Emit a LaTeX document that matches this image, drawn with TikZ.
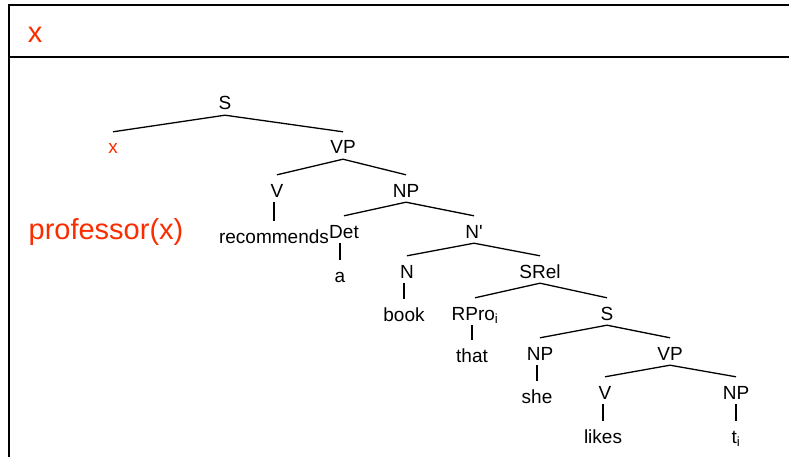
\documentclass[tikz,border=0pt]{standalone}
\usepackage{fontspec}
\setmainfont{Liberation Sans}
\definecolor{myRed}{RGB}{250, 45, 0}

\begin{document}
\begin{tikzpicture}[x=1pt,y=-1pt,
    tn/.style={anchor=base, inner sep=2pt, text height=20pt, text depth=3pt, font=\fontsize{19}{22}\selectfont},
    big/.style={anchor=base, inner sep=0pt, text=myRed, font=\fontsize{29}{34}\selectfont}]
			\useasboundingbox (0,0) rectangle (789,457);
			% box with header
			\draw[line width=1.6pt] (789,5) -- (9,5) -- (9,457);
			\draw[line width=1.6pt] (9,57) -- (789,57);
			\draw (35,43) node[big] (hx) {x};
			\draw (106,239) node[big] (prof) {professor(x)};

			% tree
			\draw (225,110) node[tn] (S1) {S};
			\draw (113,154) node[tn, text=myRed] (X1) {x};
			\draw (343,154) node[tn] (VP1) {VP};
			\draw (277,197) node[tn] (V1) {V};
			\draw (406,197) node[tn] (NP1) {NP};
			\draw (274,243) node[tn] (rec) {recommends};
			\draw (344,238) node[tn] (Det) {Det};
			\draw (474,238) node[tn] (Nbar) {N\textquotesingle};
			\draw (340,282) node[tn] (a) {a};
			\draw (407,278) node[tn] (N1) {N};
			\draw (540,278) node[tn] (SRel) {SRel};
			\draw (404,321) node[tn] (book) {book};
			\draw (475,320) node[tn] (RPro) {RPro\textsubscript{i}};
			\draw (607,320) node[tn] (S2) {S};
			\draw (472,362) node[tn] (that) {that};
			\draw (540,360) node[tn] (NP2) {NP};
			\draw (670,360) node[tn] (VP2) {VP};
			\draw (537,403) node[tn] (she) {she};
			\draw (605,399) node[tn] (V2) {V};
			\draw (736,399) node[tn] (NP3) {NP};
			\draw (603,443) node[tn] (likes) {likes};
			\draw (736,443) node[tn] (t) {t\textsubscript{i}};

			% branching
			\draw[line width=1.3pt]
			(S1.south) -- (X1.north)
			(S1.south) -- (VP1.north)
			(VP1.south) -- (V1.north)
			(VP1.south) -- (NP1.north)
			(NP1.south) -- (Det.north)
			(NP1.south) -- (Nbar.north)
			(Nbar.south) -- (N1.north)
			(Nbar.south) -- (SRel.north)
			(SRel.south) -- (RPro.north)
			(SRel.south) -- (S2.north)
			(S2.south) -- (NP2.north)
			(S2.south) -- (VP2.north)
			(VP2.south) -- (V2.north)
			(VP2.south) -- (NP3.north)
			;
			% words
			\draw[line width=1.3pt]
			(rec.north) -- (rec.north |- V1.south)
			(a.north) -- (a.north |- Det.south)
			(book.north) -- (book.north |- N1.south)
			(that.north) -- (that.north |- RPro.south)
			(she.north) -- (she.north |- NP2.south)
			(likes.north) -- (likes.north |- V2.south)
			(t.north) -- (t.north |- NP3.south)
			;
		\end{tikzpicture}
\end{document}
